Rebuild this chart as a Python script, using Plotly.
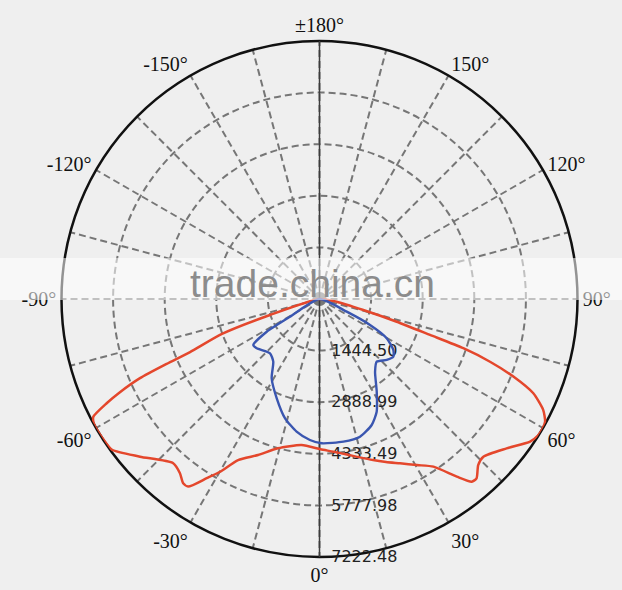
import plotly.graph_objects as go

# ---- data ----
R_MAX = 7222.48
ring_values = [1444.50, 2888.99, 4333.49, 5777.98, 7222.48]
ring_labels = ["1444.50", "2888.99", "4333.49", "5777.98", "7222.48"]

angle_ticks = list(range(0, 360, 15))
angle_label_map = {0: "0°", 30: "30°", 60: "60°", 90: "90°", 120: "120°", 150: "150°",
                   180: "±180°", 210: "-150°", 240: "-120°", 270: "-90°", 300: "-60°", 330: "-30°"}
angle_labels = [angle_label_map.get(a, "") for a in angle_ticks]

# red curve (C0-C180 plane), gamma in degrees, intensity in cd
red_theta = [-90, -72.1, -70.3, -67.7, -67.0, -66.2, -64.9, -63.9, -62.5, -61.3, -60.2, -58.8,
             -57.1, -54.0, -48.7, -41.7, -38.7, -36.5, -35.0, -32.2, -29.9, -26.8, -21.5, -15.6,
             -7.0, 0.4, 5.2, 10.7, 18.4, 22.2, 26.1, 30.4, 34.2, 37.7, 39.8, 41.2, 43.7, 46.1,
             51.4, 55.9, 58.0, 59.8, 61.5, 63.6, 66.2, 68.2, 69.8, 71.1, 72.0, 73.6, 75.9, 81.1, 90]
red_r = [0, 1456, 2900, 3917, 4648, 5492, 6199, 6635, 7138, 7210, 7222, 7222,
         7215, 7180, 6688, 6156, 6248, 6416, 6411, 5929, 5579, 5053, 4694, 4339,
         4118, 4207, 4292, 4445, 4751, 4927, 5123, 5390, 5674, 6285, 6657, 6674, 6430, 6366,
         6702, 7119, 7210, 7222, 7186, 6993, 6542, 5845, 5086, 4255, 3253, 2254, 1265, 487, 0]

# blue curve (C90-C270 plane)
blue_theta = [-90, -59.0, -58.2, -55.2, -51.9, -42.3, -36.4, -31.1, -23.3, -16.1, -9.8, -3.9,
              0.9, 9.5, 16.4, 22.5, 26.9, 31.7, 37.4, 42.4, 47.8, 52.0, 55.4, 59.7, 62.8, 65.0, 90]
blue_r = [0, 963, 1738, 2256, 2234, 2057, 2181, 2592, 3026, 3477, 3768, 3956,
          4040, 4050, 4017, 3818, 3538, 3049, 2561, 2376, 2541, 2623, 2511, 2178, 1590, 840, 0]

# ---- figure ----
W, H = 622, 590
cx, cy, rad = 319.5, 299.0, 258.0

fig = go.Figure()

# solid 0/180 axis line
fig.add_trace(go.Scatterpolar(r=[R_MAX, 0, R_MAX], theta=[180, 180, 0], mode="lines",
                              line=dict(color="#3c3c3c", width=1.5), hoverinfo="skip",
                              showlegend=False))
fig.add_trace(go.Scatterpolar(r=red_r, theta=red_theta, mode="lines", cliponaxis=False,
                              line=dict(color="#e4472c", width=2.5, shape="spline", smoothing=0.6),
                              showlegend=False))
fig.add_trace(go.Scatterpolar(r=blue_r, theta=blue_theta, mode="lines", cliponaxis=False,
                              line=dict(color="#3a56b0", width=2.4, shape="spline", smoothing=0.6),
                              showlegend=False))

fig.update_layout(
    width=W, height=H,
    margin=dict(l=0, r=0, t=0, b=0),
    paper_bgcolor="#efefef",
    showlegend=False,
    polar=dict(
        domain=dict(x=[(cx - rad) / W, (cx + rad) / W],
                    y=[(H - cy - rad) / H, (H - cy + rad) / H]),
        bgcolor="#efefef",
        angularaxis=dict(
            rotation=-90, direction="counterclockwise",
            tickmode="array", tickvals=angle_ticks, ticktext=angle_labels,
            showline=True, linecolor="#111111", linewidth=2.5,
            gridcolor="#767676", gridwidth=2, griddash="7px,4px",
            ticks="", layer="below traces",
            tickfont=dict(family="Liberation Serif", size=20, color="#111111"),
        ),
        radialaxis=dict(
            range=[0, R_MAX], angle=-90, tickangle=-90, side="counterclockwise",
            tickmode="array", tickvals=ring_values, ticktext=ring_labels,
            showline=False, ticks="outside", ticklen=8, tickcolor="rgba(0,0,0,0)",
            layer="below traces",
            gridcolor="#767676", gridwidth=2, griddash="7px,4px",
            tickfont=dict(family="DejaVu Sans", size=16, color="#222222"),
        ),
    ),
)

# watermark band as in the reference
fig.add_shape(type="rect", xref="paper", yref="paper", x0=0, x1=1,
              y0=(H - 300) / H, y1=(H - 258) / H,
              fillcolor="rgba(255,255,255,0.55)", line=dict(width=0), layer="above")
fig.add_annotation(text="trade.china.cn", xref="paper", yref="paper",
                   x=312 / W, y=(H - 283) / H, xanchor="center", yanchor="middle",
                   showarrow=False,
                   font=dict(family="Liberation Sans", size=39, color="#8c8c8c"))

fig.write_html("out.html", config={"displayModeBar": False},
               post_script="document.body.style.margin='0';")
